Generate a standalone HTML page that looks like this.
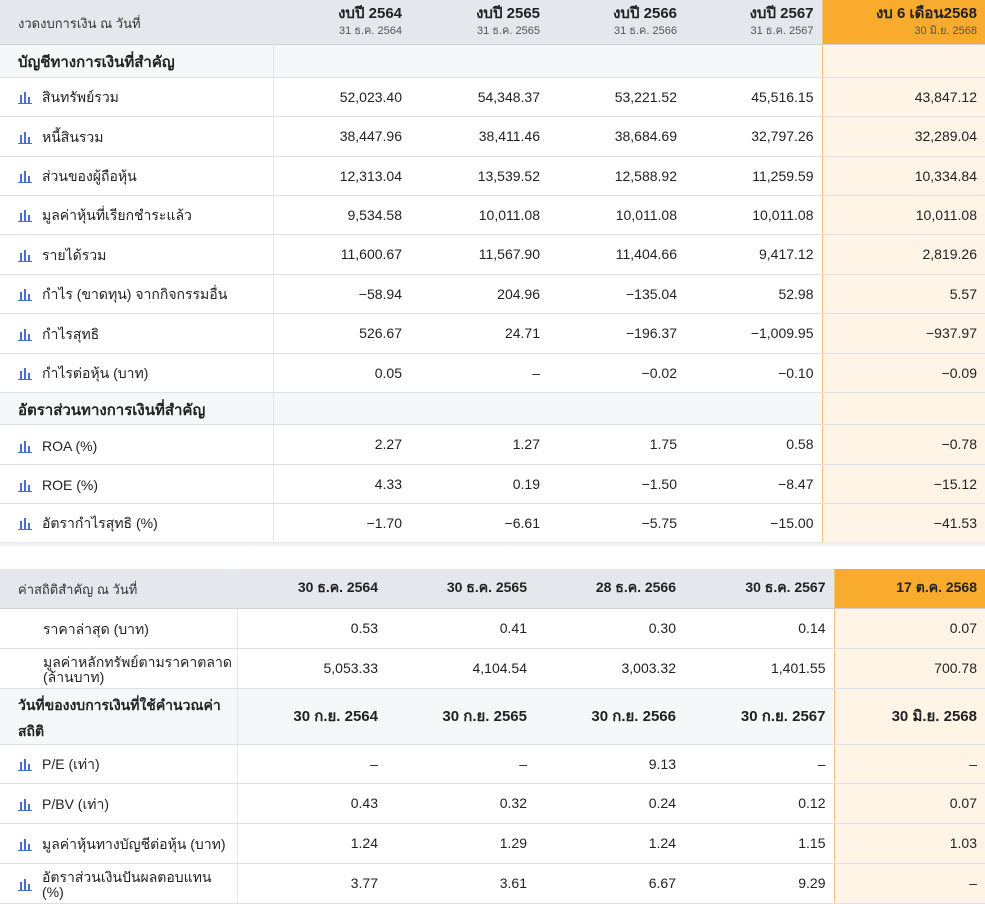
<!DOCTYPE html>
<html><head><meta charset="utf-8"><style>
body{margin:0;background:#fff;font-family:"Liberation Sans","Noto Sans CJK SC",sans-serif;color:#222;width:985px;height:897px;overflow:hidden;position:relative}
table{border-collapse:collapse;table-layout:fixed;position:absolute;left:0;width:985px}
td{padding:0 8px 0 0;text-align:right;font-size:14px;border-bottom:1px solid #dde0e4;white-space:nowrap;overflow:hidden}
td.l{text-align:left;padding-left:18px;padding-top:3px;border-right:1px solid #e4e6ea}
tr.h td{background:#e4e7eb;border-bottom:1px solid #cfd3d8}
tr.h td.o{background:#f9ab2e;border-right:none}
td.o{background:#fff4e6;border-left:1px solid #f3c27a}
tr.s td{background:#f6f7f9;font-weight:bold;font-size:15px}
tr.s td.o{background:#fff4e6}
.t{font-weight:bold;font-size:15px;display:block;line-height:18px}
.d{font-size:11px;color:#555;display:block;line-height:16px}
.ic{display:inline-block;vertical-align:middle;margin-right:10px;width:14px;height:12px}
</style></head><body>
<table style="top:0">
<colgroup><col style="width:273px"><col style="width:137px"><col style="width:138px"><col style="width:137px"><col style="width:137px"><col style="width:163px"></colgroup>
<tr class="h" style="height:44px"><td class="l" style="font-size:13px;color:#333">งวดงบการเงิน ณ วันที่</td><td><span class="t">งบปี 2564</span><span class="d">31 ธ.ค. 2564</span></td><td><span class="t">งบปี 2565</span><span class="d">31 ธ.ค. 2565</span></td><td><span class="t">งบปี 2566</span><span class="d">31 ธ.ค. 2566</span></td><td><span class="t">งบปี 2567</span><span class="d">31 ธ.ค. 2567</span></td><td class="o"><span class="t">งบ 6 เดือน2568</span><span class="d">30 มิ.ย. 2568</span></td></tr>
<tr class="s" style="height:33px"><td class="l">บัญชีทางการเงินที่สำคัญ</td><td></td><td></td><td></td><td></td><td class="o"></td></tr>
<tr style="height:39px"><td class="l"><svg class="ic" viewBox="0 0 14 12"><rect x="2" y="3" width="2" height="8" fill="#4a6cd4"/><rect x="6" y="0" width="2" height="11" fill="#4a6cd4"/><rect x="10" y="5" width="2" height="6" fill="#4a6cd4"/><rect x="0" y="11" width="14" height="1" fill="#4a6cd4"/></svg>สินทรัพย์รวม</td><td>52,023.40</td><td>54,348.37</td><td>53,221.52</td><td>45,516.15</td><td class="o">43,847.12</td></tr>
<tr style="height:40px"><td class="l"><svg class="ic" viewBox="0 0 14 12"><rect x="2" y="3" width="2" height="8" fill="#4a6cd4"/><rect x="6" y="0" width="2" height="11" fill="#4a6cd4"/><rect x="10" y="5" width="2" height="6" fill="#4a6cd4"/><rect x="0" y="11" width="14" height="1" fill="#4a6cd4"/></svg>หนี้สินรวม</td><td>38,447.96</td><td>38,411.46</td><td>38,684.69</td><td>32,797.26</td><td class="o">32,289.04</td></tr>
<tr style="height:39px"><td class="l"><svg class="ic" viewBox="0 0 14 12"><rect x="2" y="3" width="2" height="8" fill="#4a6cd4"/><rect x="6" y="0" width="2" height="11" fill="#4a6cd4"/><rect x="10" y="5" width="2" height="6" fill="#4a6cd4"/><rect x="0" y="11" width="14" height="1" fill="#4a6cd4"/></svg>ส่วนของผู้ถือหุ้น</td><td>12,313.04</td><td>13,539.52</td><td>12,588.92</td><td>11,259.59</td><td class="o">10,334.84</td></tr>
<tr style="height:39px"><td class="l"><svg class="ic" viewBox="0 0 14 12"><rect x="2" y="3" width="2" height="8" fill="#4a6cd4"/><rect x="6" y="0" width="2" height="11" fill="#4a6cd4"/><rect x="10" y="5" width="2" height="6" fill="#4a6cd4"/><rect x="0" y="11" width="14" height="1" fill="#4a6cd4"/></svg>มูลค่าหุ้นที่เรียกชำระแล้ว</td><td>9,534.58</td><td>10,011.08</td><td>10,011.08</td><td>10,011.08</td><td class="o">10,011.08</td></tr>
<tr style="height:40px"><td class="l"><svg class="ic" viewBox="0 0 14 12"><rect x="2" y="3" width="2" height="8" fill="#4a6cd4"/><rect x="6" y="0" width="2" height="11" fill="#4a6cd4"/><rect x="10" y="5" width="2" height="6" fill="#4a6cd4"/><rect x="0" y="11" width="14" height="1" fill="#4a6cd4"/></svg>รายได้รวม</td><td>11,600.67</td><td>11,567.90</td><td>11,404.66</td><td>9,417.12</td><td class="o">2,819.26</td></tr>
<tr style="height:39px"><td class="l"><svg class="ic" viewBox="0 0 14 12"><rect x="2" y="3" width="2" height="8" fill="#4a6cd4"/><rect x="6" y="0" width="2" height="11" fill="#4a6cd4"/><rect x="10" y="5" width="2" height="6" fill="#4a6cd4"/><rect x="0" y="11" width="14" height="1" fill="#4a6cd4"/></svg>กำไร (ขาดทุน) จากกิจกรรมอื่น</td><td>−58.94</td><td>204.96</td><td>−135.04</td><td>52.98</td><td class="o">5.57</td></tr>
<tr style="height:40px"><td class="l"><svg class="ic" viewBox="0 0 14 12"><rect x="2" y="3" width="2" height="8" fill="#4a6cd4"/><rect x="6" y="0" width="2" height="11" fill="#4a6cd4"/><rect x="10" y="5" width="2" height="6" fill="#4a6cd4"/><rect x="0" y="11" width="14" height="1" fill="#4a6cd4"/></svg>กำไรสุทธิ</td><td>526.67</td><td>24.71</td><td>−196.37</td><td>−1,009.95</td><td class="o">−937.97</td></tr>
<tr style="height:39px"><td class="l"><svg class="ic" viewBox="0 0 14 12"><rect x="2" y="3" width="2" height="8" fill="#4a6cd4"/><rect x="6" y="0" width="2" height="11" fill="#4a6cd4"/><rect x="10" y="5" width="2" height="6" fill="#4a6cd4"/><rect x="0" y="11" width="14" height="1" fill="#4a6cd4"/></svg>กำไรต่อหุ้น (บาท)</td><td>0.05</td><td>–</td><td>−0.02</td><td>−0.10</td><td class="o">−0.09</td></tr>
<tr class="s" style="height:32px"><td class="l">อัตราส่วนทางการเงินที่สำคัญ</td><td></td><td></td><td></td><td></td><td class="o"></td></tr>
<tr style="height:40px"><td class="l"><svg class="ic" viewBox="0 0 14 12"><rect x="2" y="3" width="2" height="8" fill="#4a6cd4"/><rect x="6" y="0" width="2" height="11" fill="#4a6cd4"/><rect x="10" y="5" width="2" height="6" fill="#4a6cd4"/><rect x="0" y="11" width="14" height="1" fill="#4a6cd4"/></svg>ROA (%)</td><td>2.27</td><td>1.27</td><td>1.75</td><td>0.58</td><td class="o">−0.78</td></tr>
<tr style="height:39px"><td class="l"><svg class="ic" viewBox="0 0 14 12"><rect x="2" y="3" width="2" height="8" fill="#4a6cd4"/><rect x="6" y="0" width="2" height="11" fill="#4a6cd4"/><rect x="10" y="5" width="2" height="6" fill="#4a6cd4"/><rect x="0" y="11" width="14" height="1" fill="#4a6cd4"/></svg>ROE (%)</td><td>4.33</td><td>0.19</td><td>−1.50</td><td>−8.47</td><td class="o">−15.12</td></tr>
<tr style="height:39px"><td class="l"><svg class="ic" viewBox="0 0 14 12"><rect x="2" y="3" width="2" height="8" fill="#4a6cd4"/><rect x="6" y="0" width="2" height="11" fill="#4a6cd4"/><rect x="10" y="5" width="2" height="6" fill="#4a6cd4"/><rect x="0" y="11" width="14" height="1" fill="#4a6cd4"/></svg>อัตรากำไรสุทธิ (%)</td><td>−1.70</td><td>−6.61</td><td>−5.75</td><td>−15.00</td><td class="o">−41.53</td></tr>
</table>
<div style="position:absolute;left:0;top:542px;width:985px;height:6px;background:linear-gradient(#e8e9ec,#fff)"></div>
<table style="top:569px">
<colgroup><col style="width:237px"><col style="width:149px"><col style="width:149px"><col style="width:149px"><col style="width:150px"><col style="width:151px"></colgroup>
<tr class="h" style="height:39px"><td class="l" style="font-size:13px;color:#333">ค่าสถิติสำคัญ ณ วันที่</td><td><b>30 ธ.ค. 2564</b></td><td><b>30 ธ.ค. 2565</b></td><td><b>28 ธ.ค. 2566</b></td><td><b>30 ธ.ค. 2567</b></td><td class="o"><b>17 ต.ค. 2568</b></td></tr>
<tr style="height:40px"><td class="l" style="padding-left:43px">ราคาล่าสุด (บาท)</td><td>0.53</td><td>0.41</td><td>0.30</td><td>0.14</td><td class="o">0.07</td></tr>
<tr style="height:40px"><td class="l" style="padding-left:43px;padding-right:0;line-height:15px">มูลค่าหลักทรัพย์ตามราคาตลาด<br>(ล้านบาท)</td><td>5,053.33</td><td>4,104.54</td><td>3,003.32</td><td>1,401.55</td><td class="o">700.78</td></tr>
<tr class="s" style="height:54px"><td class="l" style="white-space:normal;line-height:26px;font-size:14px">วันที่ของงบการเงินที่ใช้คำนวณค่าสถิติ</td><td>30 ก.ย. 2564</td><td>30 ก.ย. 2565</td><td>30 ก.ย. 2566</td><td>30 ก.ย. 2567</td><td class="o">30 มิ.ย. 2568</td></tr>
<tr style="height:39px"><td class="l"><svg class="ic" viewBox="0 0 14 12"><rect x="2" y="3" width="2" height="8" fill="#4a6cd4"/><rect x="6" y="0" width="2" height="11" fill="#4a6cd4"/><rect x="10" y="5" width="2" height="6" fill="#4a6cd4"/><rect x="0" y="11" width="14" height="1" fill="#4a6cd4"/></svg>P/E (เท่า)</td><td>–</td><td>–</td><td>9.13</td><td>–</td><td class="o">–</td></tr>
<tr style="height:40px"><td class="l"><svg class="ic" viewBox="0 0 14 12"><rect x="2" y="3" width="2" height="8" fill="#4a6cd4"/><rect x="6" y="0" width="2" height="11" fill="#4a6cd4"/><rect x="10" y="5" width="2" height="6" fill="#4a6cd4"/><rect x="0" y="11" width="14" height="1" fill="#4a6cd4"/></svg>P/BV (เท่า)</td><td>0.43</td><td>0.32</td><td>0.24</td><td>0.12</td><td class="o">0.07</td></tr>
<tr style="height:40px"><td class="l"><svg class="ic" viewBox="0 0 14 12"><rect x="2" y="3" width="2" height="8" fill="#4a6cd4"/><rect x="6" y="0" width="2" height="11" fill="#4a6cd4"/><rect x="10" y="5" width="2" height="6" fill="#4a6cd4"/><rect x="0" y="11" width="14" height="1" fill="#4a6cd4"/></svg>มูลค่าหุ้นทางบัญชีต่อหุ้น (บาท)</td><td>1.24</td><td>1.29</td><td>1.24</td><td>1.15</td><td class="o">1.03</td></tr>
<tr style="height:40px"><td class="l"><div style="display:flex;align-items:center"><svg class="ic" viewBox="0 0 14 12" style="flex:none"><rect x="2" y="3" width="2" height="8" fill="#4a6cd4"/><rect x="6" y="0" width="2" height="11" fill="#4a6cd4"/><rect x="10" y="5" width="2" height="6" fill="#4a6cd4"/><rect x="0" y="11" width="14" height="1" fill="#4a6cd4"/></svg><span style="line-height:15px">อัตราส่วนเงินปันผลตอบแทน<br>(%)</span></div></td><td>3.77</td><td>3.61</td><td>6.67</td><td>9.29</td><td class="o">–</td></tr>
</table>
</body></html>
